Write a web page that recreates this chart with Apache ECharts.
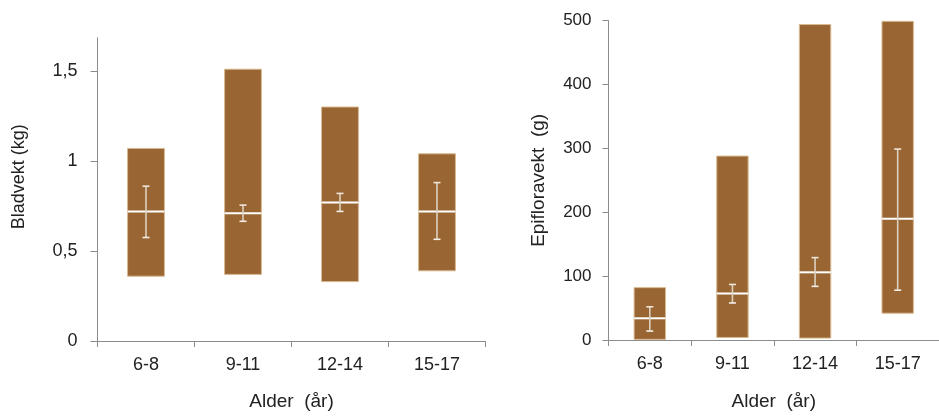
<!DOCTYPE html>
<html>
<head>
<meta charset="utf-8">
<script src="https://cdn.jsdelivr.net/npm/echarts@6/dist/echarts.min.js"></script>
<style>
html,body{margin:0;padding:0;background:#fff;}
#chart{width:939px;height:416px;}
</style>
</head>
<body>
<div id="chart"></div>
<script>
// ---- data ----
const categories = ['6-8', '9-11', '12-14', '15-17'];

// Left panel: Bladvekt (kg)
const leafMin     = [0.36, 0.37, 0.33, 0.39];
const leafMax     = [1.07, 1.51, 1.30, 1.04];
const leafMean    = [0.72, 0.71, 0.77, 0.72];
const leafErrLow  = [0.575, 0.665, 0.72, 0.565];
const leafErrHigh = [0.86, 0.755, 0.82, 0.88];
const leafTicks   = [0, 0.5, 1, 1.5];

// Right panel: Epifloravekt (g)
const epiMin     = [1, 4, 3, 42];
const epiMax     = [82, 288, 494, 499];
const epiMean    = [34, 73, 106, 190];
const epiErrLow  = [14, 58, 84, 78];
const epiErrHigh = [52, 87, 129, 299];
const epiTicks   = [0, 100, 200, 300, 400, 500];

// ---- styling ----
const FONT = '"Liberation Sans", Arial, sans-serif';
const TXT = '#222';
const AXIS = '#8c8c8c';
const BAR = '#996633';
const BAR_EDGE = '#d8b890';
const ERR = '#ddd0bf';

function buildData(mins, maxs, means, lows, highs) {
  return categories.map((c, i) => [i, mins[i], maxs[i], means[i], lows[i], highs[i]]);
}

function renderItem(params, api) {
  const i = api.value(0);
  const pMin = api.coord([i, api.value(1)]);
  const pMax = api.coord([i, api.value(2)]);
  const pMean = api.coord([i, api.value(3)]);
  const pLo = api.coord([i, api.value(4)]);
  const pHi = api.coord([i, api.value(5)]);
  const w = api.size([1, 0])[0] * 0.38;
  const cx = pMin[0];
  const cap = 3.5;
  return {
    type: 'group',
    children: [
      { type: 'rect', shape: { x: cx - w / 2, y: pMax[1], width: w, height: pMin[1] - pMax[1] },
        style: { fill: BAR, stroke: BAR_EDGE, lineWidth: 1 } },
      { type: 'line', shape: { x1: cx - w / 2, y1: pMean[1], x2: cx + w / 2, y2: pMean[1] },
        style: { stroke: '#ffffff', lineWidth: 2 } },
      { type: 'line', shape: { x1: cx, y1: pHi[1], x2: cx, y2: pLo[1] },
        style: { stroke: ERR, lineWidth: 1.6 } },
      { type: 'line', shape: { x1: cx - cap, y1: pHi[1], x2: cx + cap, y2: pHi[1] },
        style: { stroke: '#eee6dc', lineWidth: 1.6 } },
      { type: 'line', shape: { x1: cx - cap, y1: pLo[1], x2: cx + cap, y2: pLo[1] },
        style: { stroke: '#f4eee8', lineWidth: 1.6 } }
    ]
  };
}

function xAxisDef(gridIndex, gap) {
  return {
    type: 'category', gridIndex: gridIndex, data: categories, boundaryGap: true,
    name: 'Alder  (år)', nameLocation: 'middle', nameGap: gap,
    nameTextStyle: { color: TXT, fontFamily: FONT, fontSize: 19 },
    axisLine: { lineStyle: { color: AXIS, width: 1 } },
    axisTick: { show: true, length: 6, interval: 0, lineStyle: { color: AXIS } },
    axisLabel: { color: TXT, fontFamily: FONT, fontSize: 18, margin: 15, interval: 0 },
    splitLine: { show: false }
  };
}

const chart = echarts.init(document.getElementById('chart'), null, { renderer: 'canvas' });
chart.setOption({
  animation: false,
  backgroundColor: '#ffffff',
  grid: [
    { left: 97.5, top: 37.7, width: 388, height: 307.6 },
    { left: 608.5, top: 20.7, width: 338.3, height: 321.3 }
  ],
  xAxis: [xAxisDef(0, 51), xAxisDef(1, 52)],
  yAxis: [
    {
      type: 'value', gridIndex: 0, min: 0, max: 1.685,
      name: 'Bladvekt (kg)', nameLocation: 'middle', nameGap: 69,
      nameTextStyle: { color: TXT, fontFamily: FONT, fontSize: 18, padding: [0, 0, 0, 25] },
      axisLine: { show: true, lineStyle: { color: AXIS, width: 1 } },
      axisTick: { show: true, length: 7, customValues: leafTicks, lineStyle: { color: AXIS } },
      axisLabel: { color: TXT, fontFamily: FONT, fontSize: 18, margin: 20, customValues: leafTicks,
        formatter: v => String(v).replace('.', ',') },
      splitLine: { show: false }
    },
    {
      type: 'value', gridIndex: 1, min: 0, max: 500, interval: 100,
      name: 'Epifloravekt  (g)', nameLocation: 'middle', nameGap: 60,
      nameTextStyle: { color: TXT, fontFamily: FONT, fontSize: 19 },
      axisLine: { show: true, lineStyle: { color: AXIS, width: 1 } },
      axisTick: { show: true, length: 6, customValues: epiTicks, lineStyle: { color: AXIS } },
      axisLabel: { color: TXT, fontFamily: FONT, fontSize: 17, margin: 17, customValues: epiTicks },
      splitLine: { show: false }
    }
  ],
  series: [
    {
      type: 'custom', xAxisIndex: 0, yAxisIndex: 0,
      data: buildData(leafMin, leafMax, leafMean, leafErrLow, leafErrHigh),
      encode: { x: 0, y: [1, 2, 3, 4, 5] },
      renderItem: renderItem
    },
    {
      type: 'custom', xAxisIndex: 1, yAxisIndex: 1,
      data: buildData(epiMin, epiMax, epiMean, epiErrLow, epiErrHigh),
      encode: { x: 0, y: [1, 2, 3, 4, 5] },
      renderItem: renderItem
    }
  ]
});
</script>
</body>
</html>
